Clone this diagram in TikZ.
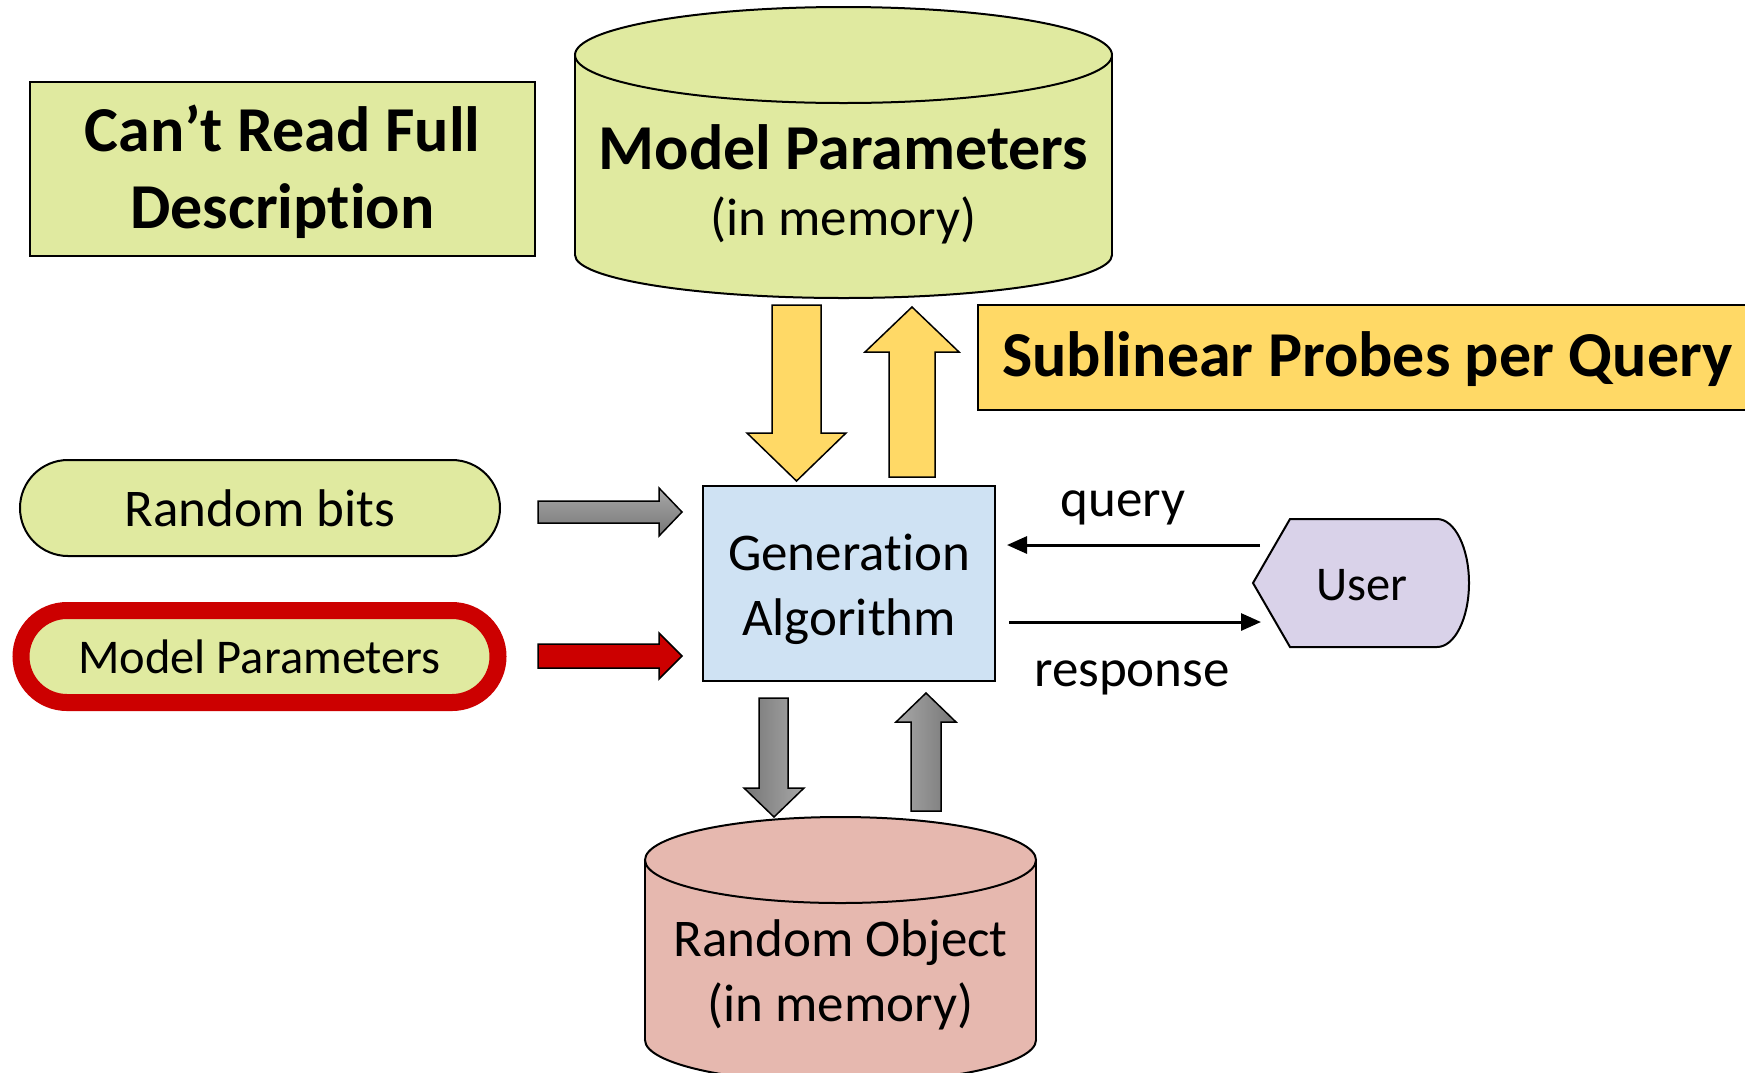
\documentclass[tikz,border=0pt]{standalone}
\usepackage{fontspec}
\setmainfont{Carlito}[Ligatures={NoCommon}]
\usetikzlibrary{arrows.meta}
\definecolor{lgreen}{HTML}{E0EAA0}
\definecolor{lblue}{HTML}{CFE2F3}
\definecolor{lpink}{HTML}{E6B8AF}
\definecolor{lpurple}{HTML}{D9D2E9}
\definecolor{lyellow}{HTML}{FFD966}
\definecolor{dred}{HTML}{CC0000}
\definecolor{glight}{RGB}{168,168,168}
\definecolor{gdark}{RGB}{118,118,118}
\tikzset{
  outl/.style={draw=black, line width=2pt},
  regtxt/.style={font=\fontsize{53}{65}\selectfont},
  midtxt/.style={font=\fontsize{48.5}{56}\selectfont},
  boldtxt/.style={font=\fontsize{64}{77}\selectfont\bfseries},
  blockarrow/.style={draw=black, line width=1.5pt, line join=miter},
  garrowh/.style={blockarrow, top color=glight, bottom color=gdark},
  garrowdown/.style={blockarrow, left color=gdark, right color=glight},
  garrowup/.style={blockarrow, left color=glight, right color=gdark},
  yarrow/.style={blockarrow, fill=lyellow},
  rarrow/.style={blockarrow, fill=dred},
  thinarrow/.style={line width=3pt, -{Triangle[length=20pt, width=17pt]}},
  stadium/.style={rectangle, align=center}
}
\begin{document}
\begin{tikzpicture}[x=1pt, y=-1pt]
\useasboundingbox (0,0) rectangle (1745,1072);
\fill[white] (0,0) rectangle (1745,1072);
\clip (0,0) rectangle (1745,1072);

% Can't read full description
\node[outl, fill=lgreen, minimum width=505pt, minimum height=174pt, inner sep=0pt] (desc) at (282.5,169) {};
\node[align=center, inner sep=0pt, boldtxt] (desctext) at ([yshift=-2.5pt]desc.center) {Can’t Read Full\\Description};

% Top cylinder (model parameters in memory)
\filldraw[outl, fill=lgreen] (843.5,255) ellipse [x radius=268.5, y radius=43];
\fill[lgreen] (575,55) rectangle (1112,255);
\draw[line width=2pt] (575,55) -- (575,255) (1112,55) -- (1112,255);
\filldraw[outl, fill=lgreen] (843.5,55) ellipse [x radius=268.5, y radius=48];
\node[align=center, inner sep=0pt, font=\fontsize{53}{66}\selectfont] (mpmem) at (843.5,184)
  {{\fontsize{64}{66}\selectfont\bfseries Model Parameters}\\(in memory)};

% Sublinear probes box
\node[outl, fill=lyellow, anchor=west, inner sep=0pt,
      minimum height=105pt, minimum width=820pt] (sub) at (977,357.5) {};
\node[anchor=west, inner sep=0pt, boldtxt] (subtext) at ([xshift=25pt, yshift=-1.5pt]sub.west) {Sublinear Probes per Query};

% Yellow block arrows
\draw[yarrow] (772,305) -- (821,305) -- (821,433) -- (846,433) -- (796.5,481)
   -- (747,433) -- (772,433) -- cycle;
\draw[yarrow] (889,477) -- (935,477) -- (935,352) -- (959,352) -- (912,307)
   -- (865,352) -- (889,352) -- cycle;

% Generation algorithm
\node[outl, fill=lblue, minimum width=292pt, minimum height=195pt, inner sep=0pt] (gen) at (849,583.5) {};
\node[align=center, inner sep=0pt, regtxt] (gentext) at ([yshift=-5.5pt]gen.center) {Generation\\Algorithm};

% Inputs
\node[stadium, draw=black, line width=2pt, fill=lgreen, minimum width=480pt,
      minimum height=96pt, rounded corners=48pt, regtxt] (bits) at (260,508) {Random bits};
\node[stadium, draw=dred, line width=17pt, fill=lgreen, minimum width=477pt,
      minimum height=92pt, rounded corners=46pt, midtxt] (mpin) at (259.5,656.5) {Model Parameters};

\draw[garrowh] (538,501) -- (659,501) -- (659,488) -- (682,512) -- (659,536)
   -- (659,523) -- (538,523) -- cycle;
\draw[rarrow] (538,644) -- (659,644) -- (659,633) -- (682,656) -- (659,679)
   -- (659,668) -- (538,668) -- cycle;

% Gray vertical arrows
\draw[garrowdown] (759,698) -- (788,698) -- (788,788) -- (804,788) -- (774,817)
   -- (744,788) -- (759,788) -- cycle;
\draw[garrowup] (911,811) -- (941,811) -- (941,722) -- (956,722) -- (926,693)
   -- (896,722) -- (911,722) -- cycle;

% Bottom cylinder (random object)
\filldraw[outl, fill=lpink] (840.5,1040) ellipse [x radius=195.5, y radius=43];
\fill[lpink] (645,860) rectangle (1036,1040);
\draw[line width=2pt] (645,860) -- (645,1040) (1036,860) -- (1036,1040);
\filldraw[outl, fill=lpink] (840.5,860) ellipse [x radius=195.5, y radius=43];
\node[align=center, inner sep=0pt, regtxt] (robj) at (840.5,975) {Random Object\\(in memory)};

% User
\filldraw[outl, fill=lpurple] (1253,583) -- (1290,519) -- (1437,519)
   .. controls (1454.7,519) and (1469,547.7) .. (1469,583)
   .. controls (1469,618.3) and (1454.7,647) .. (1437,647)
   -- (1290,647) -- cycle;
\node[inner sep=0pt, midtxt] (user) at (1362,585.5) {User};

% query / response
\coordinate (qstart) at (1260,545);
\coordinate (qend) at (1007,545);
\coordinate (rstart) at (1009,622);
\coordinate (rend) at (1261,622);
\draw[thinarrow] (qstart) -- (qend);
\draw[thinarrow] (rstart) -- (rend);
\node[anchor=base, inner sep=0pt, regtxt] (qlab) at (1123,516) {query};
\node[anchor=base, inner sep=0pt, regtxt] (rlab) at (1132,686) {response};
\end{tikzpicture}
\end{document}
